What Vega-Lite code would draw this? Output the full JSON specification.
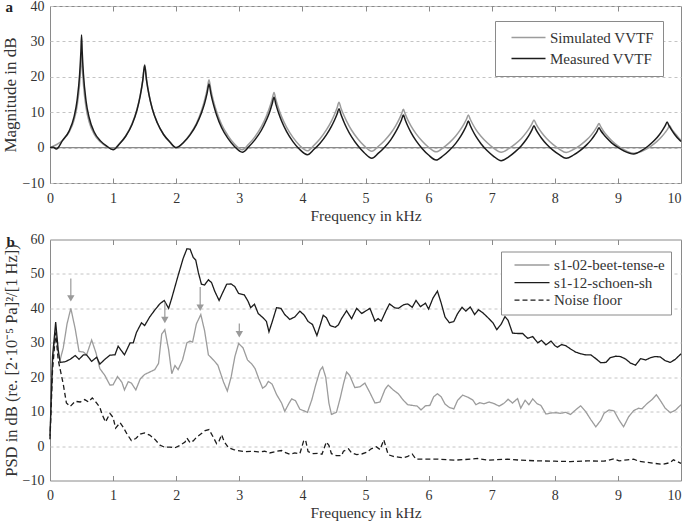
{
  "$schema": "https://vega.github.io/schema/vega-lite/v6.json",
  "padding": {"left": 0, "top": -2, "right": 0, "bottom": 0},
  "spacing": 7.5,
  "config": {
    "background": "white",
    "font": "Times New Roman, Liberation Serif, serif",
    "view": {"stroke": "#8a8a8a", "strokeWidth": 1},
    "axis": {"domain": false, "labelFont": "Times New Roman, Liberation Serif, serif", "labelFontSize": 14, "labelColor": "#333", "titleFont": "Times New Roman, Liberation Serif, serif", "titleFontSize": 15.5, "titleFontWeight": "normal", "titleColor": "#333", "gridColor": "#c4c4c4", "gridDash": [3, 3], "tickColor": "#8a8a8a", "labelFlush": false},
    "legend": {"labelFont": "Times New Roman, Liberation Serif, serif"}
  },
  "datasets": {
    "zero": [{"f0": 0, "f1": 10, "v": 0}],
    "arrows": [
      {"f": 0.33, "top": 48.7, "head": 42.9},
      {"f": 1.82, "top": 41.7, "head": 36.6},
      {"f": 2.38, "top": 46.2, "head": 40.2},
      {"f": 3.0, "top": 35.6, "head": 32.5}
    ],
    "A": [
      {"f":0,"v":0,"s":"Simulated VVTF"},{"f":0.1,"v":0.8,"s":"Simulated VVTF"},{"f":0.2,"v":2.1,"s":"Simulated VVTF"},{"f":0.3,"v":4.3,"s":"Simulated VVTF"},{"f":0.38,"v":7.7,"s":"Simulated VVTF"},{"f":0.43,"v":11.8,"s":"Simulated VVTF"},{"f":0.47,"v":18.1,"s":"Simulated VVTF"},{"f":0.49,"v":23.6,"s":"Simulated VVTF"},{"f":0.5,"v":27.5,"s":"Simulated VVTF"},{"f":0.51,"v":23.5,"s":"Simulated VVTF"},{"f":0.53,"v":17.9,"s":"Simulated VVTF"},{"f":0.57,"v":11.5,"s":"Simulated VVTF"},{"f":0.62,"v":7.3,"s":"Simulated VVTF"},{"f":0.7,"v":3.8,"s":"Simulated VVTF"},{"f":0.8,"v":1.6,"s":"Simulated VVTF"},{"f":0.9,"v":0.3,"s":"Simulated VVTF"},{"f":1.0,"v":-0.5,"s":"Simulated VVTF"},
      {"f":1.1,"v":1.1,"s":"Simulated VVTF"},{"f":1.2,"v":3.3,"s":"Simulated VVTF"},{"f":1.3,"v":6.7,"s":"Simulated VVTF"},{"f":1.38,"v":10.9,"s":"Simulated VVTF"},{"f":1.43,"v":14.8,"s":"Simulated VVTF"},{"f":1.47,"v":19.1,"s":"Simulated VVTF"},{"f":1.5,"v":23.5,"s":"Simulated VVTF"},{"f":1.53,"v":19.2,"s":"Simulated VVTF"},{"f":1.57,"v":14.9,"s":"Simulated VVTF"},{"f":1.62,"v":11.1,"s":"Simulated VVTF"},{"f":1.7,"v":7.0,"s":"Simulated VVTF"},{"f":1.8,"v":3.7,"s":"Simulated VVTF"},{"f":1.9,"v":1.5,"s":"Simulated VVTF"},{"f":2.0,"v":-0.1,"s":"Simulated VVTF"},
      {"f":2.12,"v":1.6,"s":"Simulated VVTF"},{"f":2.22,"v":3.8,"s":"Simulated VVTF"},{"f":2.32,"v":6.8,"s":"Simulated VVTF"},{"f":2.4,"v":10.4,"s":"Simulated VVTF"},{"f":2.45,"v":13.4,"s":"Simulated VVTF"},{"f":2.49,"v":16.4,"s":"Simulated VVTF"},{"f":2.52,"v":19.2,"s":"Simulated VVTF"},{"f":2.55,"v":16.3,"s":"Simulated VVTF"},{"f":2.59,"v":13.2,"s":"Simulated VVTF"},{"f":2.64,"v":10.2,"s":"Simulated VVTF"},{"f":2.72,"v":6.5,"s":"Simulated VVTF"},{"f":2.82,"v":3.4,"s":"Simulated VVTF"},{"f":2.92,"v":1.1,"s":"Simulated VVTF"},{"f":3.05,"v":-0.6,"s":"Simulated VVTF"},
      {"f":3.15,"v":1.0,"s":"Simulated VVTF"},{"f":3.25,"v":3.1,"s":"Simulated VVTF"},{"f":3.35,"v":5.9,"s":"Simulated VVTF"},{"f":3.43,"v":8.9,"s":"Simulated VVTF"},{"f":3.48,"v":11.3,"s":"Simulated VVTF"},{"f":3.52,"v":13.6,"s":"Simulated VVTF"},{"f":3.55,"v":15.6,"s":"Simulated VVTF"},{"f":3.58,"v":13.5,"s":"Simulated VVTF"},{"f":3.62,"v":11.2,"s":"Simulated VVTF"},{"f":3.67,"v":8.75,"s":"Simulated VVTF"},{"f":3.75,"v":5.7,"s":"Simulated VVTF"},{"f":3.85,"v":2.9,"s":"Simulated VVTF"},{"f":3.95,"v":0.75,"s":"Simulated VVTF"},{"f":4.08,"v":-0.9,"s":"Simulated VVTF"},
      {"f":4.18,"v":0.6,"s":"Simulated VVTF"},{"f":4.28,"v":2.5,"s":"Simulated VVTF"},{"f":4.38,"v":5.0,"s":"Simulated VVTF"},{"f":4.46,"v":7.5,"s":"Simulated VVTF"},{"f":4.51,"v":9.4,"s":"Simulated VVTF"},{"f":4.55,"v":11.25,"s":"Simulated VVTF"},{"f":4.58,"v":12.8,"s":"Simulated VVTF"},{"f":4.61,"v":11.2,"s":"Simulated VVTF"},{"f":4.65,"v":9.4,"s":"Simulated VVTF"},{"f":4.7,"v":7.5,"s":"Simulated VVTF"},{"f":4.78,"v":4.9,"s":"Simulated VVTF"},{"f":4.88,"v":2.45,"s":"Simulated VVTF"},{"f":4.98,"v":0.5,"s":"Simulated VVTF"},{"f":5.1,"v":-1.0,"s":"Simulated VVTF"},
      {"f":5.2,"v":0.3,"s":"Simulated VVTF"},{"f":5.3,"v":1.95,"s":"Simulated VVTF"},{"f":5.4,"v":4.05,"s":"Simulated VVTF"},{"f":5.48,"v":6.2,"s":"Simulated VVTF"},{"f":5.53,"v":7.9,"s":"Simulated VVTF"},{"f":5.57,"v":9.45,"s":"Simulated VVTF"},{"f":5.6,"v":10.8,"s":"Simulated VVTF"},{"f":5.63,"v":9.45,"s":"Simulated VVTF"},{"f":5.67,"v":7.85,"s":"Simulated VVTF"},{"f":5.72,"v":6.15,"s":"Simulated VVTF"},{"f":5.8,"v":3.95,"s":"Simulated VVTF"},{"f":5.9,"v":1.8,"s":"Simulated VVTF"},{"f":6.0,"v":0.1,"s":"Simulated VVTF"},{"f":6.12,"v":-1.2,"s":"Simulated VVTF"},
      {"f":6.23,"v":-0.05,"s":"Simulated VVTF"},{"f":6.33,"v":1.4,"s":"Simulated VVTF"},{"f":6.43,"v":3.25,"s":"Simulated VVTF"},{"f":6.51,"v":5.2,"s":"Simulated VVTF"},{"f":6.56,"v":6.65,"s":"Simulated VVTF"},{"f":6.6,"v":8.0,"s":"Simulated VVTF"},{"f":6.63,"v":9.2,"s":"Simulated VVTF"},{"f":6.66,"v":8.0,"s":"Simulated VVTF"},{"f":6.7,"v":6.6,"s":"Simulated VVTF"},{"f":6.75,"v":5.1,"s":"Simulated VVTF"},{"f":6.83,"v":3.2,"s":"Simulated VVTF"},{"f":6.93,"v":1.35,"s":"Simulated VVTF"},{"f":7.03,"v":-0.15,"s":"Simulated VVTF"},{"f":7.15,"v":-1.3,"s":"Simulated VVTF"},
      {"f":7.27,"v":-0.3,"s":"Simulated VVTF"},{"f":7.37,"v":1.0,"s":"Simulated VVTF"},{"f":7.47,"v":2.6,"s":"Simulated VVTF"},{"f":7.55,"v":4.3,"s":"Simulated VVTF"},{"f":7.6,"v":5.6,"s":"Simulated VVTF"},{"f":7.64,"v":6.8,"s":"Simulated VVTF"},{"f":7.67,"v":7.8,"s":"Simulated VVTF"},{"f":7.7,"v":6.8,"s":"Simulated VVTF"},{"f":7.74,"v":5.55,"s":"Simulated VVTF"},{"f":7.79,"v":4.25,"s":"Simulated VVTF"},{"f":7.87,"v":2.55,"s":"Simulated VVTF"},{"f":7.97,"v":0.9,"s":"Simulated VVTF"},{"f":8.07,"v":-0.4,"s":"Simulated VVTF"},{"f":8.18,"v":-1.4,"s":"Simulated VVTF"},
      {"f":8.3,"v":-0.5,"s":"Simulated VVTF"},{"f":8.4,"v":0.65,"s":"Simulated VVTF"},{"f":8.5,"v":2.1,"s":"Simulated VVTF"},{"f":8.58,"v":3.6,"s":"Simulated VVTF"},{"f":8.63,"v":4.8,"s":"Simulated VVTF"},{"f":8.67,"v":5.9,"s":"Simulated VVTF"},{"f":8.7,"v":6.8,"s":"Simulated VVTF"},{"f":8.73,"v":5.85,"s":"Simulated VVTF"},{"f":8.77,"v":4.7,"s":"Simulated VVTF"},{"f":8.82,"v":3.55,"s":"Simulated VVTF"},{"f":8.9,"v":2.0,"s":"Simulated VVTF"},{"f":9.0,"v":0.5,"s":"Simulated VVTF"},{"f":9.1,"v":-0.65,"s":"Simulated VVTF"},{"f":9.25,"v":-1.6,"s":"Simulated VVTF"},
      {"f":9.42,"v":-0.73,"s":"Simulated VVTF"},{"f":9.52,"v":0.35,"s":"Simulated VVTF"},{"f":9.62,"v":1.75,"s":"Simulated VVTF"},{"f":9.7,"v":3.2,"s":"Simulated VVTF"},{"f":9.75,"v":4.3,"s":"Simulated VVTF"},{"f":9.79,"v":5.3,"s":"Simulated VVTF"},{"f":9.82,"v":6.2,"s":"Simulated VVTF"},{"f":9.85,"v":5.3,"s":"Simulated VVTF"},{"f":9.89,"v":4.35,"s":"Simulated VVTF"},{"f":9.94,"v":3.3,"s":"Simulated VVTF"},{"f":10.0,"v":2.0,"s":"Simulated VVTF"},
      {"f":0,"v":0,"s":"Measured VVTF"},{"f":0.05,"v":0.1,"s":"Measured VVTF"},{"f":0.1,"v":-0.4,"s":"Measured VVTF"},{"f":0.2,"v":2.05,"s":"Measured VVTF"},{"f":0.3,"v":4.6,"s":"Measured VVTF"},{"f":0.38,"v":8.6,"s":"Measured VVTF"},{"f":0.43,"v":13.4,"s":"Measured VVTF"},{"f":0.47,"v":20.8,"s":"Measured VVTF"},{"f":0.49,"v":27.2,"s":"Measured VVTF"},{"f":0.5,"v":31.8,"s":"Measured VVTF"},{"f":0.51,"v":27.2,"s":"Measured VVTF"},{"f":0.53,"v":20.7,"s":"Measured VVTF"},{"f":0.57,"v":13.3,"s":"Measured VVTF"},{"f":0.62,"v":8.5,"s":"Measured VVTF"},{"f":0.7,"v":4.4,"s":"Measured VVTF"},{"f":0.8,"v":1.9,"s":"Measured VVTF"},{"f":0.9,"v":0.4,"s":"Measured VVTF"},{"f":1.0,"v":-0.6,"s":"Measured VVTF"},
      {"f":1.1,"v":1.0,"s":"Measured VVTF"},{"f":1.2,"v":3.2,"s":"Measured VVTF"},{"f":1.3,"v":6.5,"s":"Measured VVTF"},{"f":1.38,"v":10.7,"s":"Measured VVTF"},{"f":1.43,"v":14.6,"s":"Measured VVTF"},{"f":1.47,"v":18.9,"s":"Measured VVTF"},{"f":1.5,"v":23.2,"s":"Measured VVTF"},{"f":1.53,"v":19.0,"s":"Measured VVTF"},{"f":1.57,"v":14.8,"s":"Measured VVTF"},{"f":1.62,"v":11.0,"s":"Measured VVTF"},{"f":1.7,"v":7.0,"s":"Measured VVTF"},{"f":1.8,"v":3.7,"s":"Measured VVTF"},{"f":1.9,"v":1.6,"s":"Measured VVTF"},{"f":2.0,"v":0,"s":"Measured VVTF"},
      {"f":2.12,"v":1.5,"s":"Measured VVTF"},{"f":2.22,"v":3.6,"s":"Measured VVTF"},{"f":2.32,"v":6.5,"s":"Measured VVTF"},{"f":2.4,"v":9.8,"s":"Measured VVTF"},{"f":2.45,"v":12.5,"s":"Measured VVTF"},{"f":2.49,"v":15.4,"s":"Measured VVTF"},{"f":2.52,"v":18,"s":"Measured VVTF"},{"f":2.55,"v":15.2,"s":"Measured VVTF"},{"f":2.59,"v":12.2,"s":"Measured VVTF"},{"f":2.64,"v":9.2,"s":"Measured VVTF"},{"f":2.72,"v":5.6,"s":"Measured VVTF"},{"f":2.82,"v":2.6,"s":"Measured VVTF"},{"f":2.92,"v":0.4,"s":"Measured VVTF"},{"f":3.05,"v":-1.3,"s":"Measured VVTF"},
      {"f":3.15,"v":0.25,"s":"Measured VVTF"},{"f":3.25,"v":2.25,"s":"Measured VVTF"},{"f":3.35,"v":4.9,"s":"Measured VVTF"},{"f":3.43,"v":7.8,"s":"Measured VVTF"},{"f":3.48,"v":10.0,"s":"Measured VVTF"},{"f":3.52,"v":12.3,"s":"Measured VVTF"},{"f":3.55,"v":14.2,"s":"Measured VVTF"},{"f":3.58,"v":12.2,"s":"Measured VVTF"},{"f":3.62,"v":9.9,"s":"Measured VVTF"},{"f":3.67,"v":7.5,"s":"Measured VVTF"},{"f":3.75,"v":4.5,"s":"Measured VVTF"},{"f":3.85,"v":1.7,"s":"Measured VVTF"},{"f":3.95,"v":-0.4,"s":"Measured VVTF"},{"f":4.08,"v":-2.0,"s":"Measured VVTF"},
      {"f":4.18,"v":-0.55,"s":"Measured VVTF"},{"f":4.28,"v":1.25,"s":"Measured VVTF"},{"f":4.38,"v":3.6,"s":"Measured VVTF"},{"f":4.46,"v":6.0,"s":"Measured VVTF"},{"f":4.51,"v":7.8,"s":"Measured VVTF"},{"f":4.55,"v":9.5,"s":"Measured VVTF"},{"f":4.58,"v":11,"s":"Measured VVTF"},{"f":4.61,"v":9.4,"s":"Measured VVTF"},{"f":4.65,"v":7.6,"s":"Measured VVTF"},{"f":4.7,"v":5.6,"s":"Measured VVTF"},{"f":4.78,"v":3.0,"s":"Measured VVTF"},{"f":4.88,"v":0.5,"s":"Measured VVTF"},{"f":4.98,"v":-1.45,"s":"Measured VVTF"},{"f":5.1,"v":-3.0,"s":"Measured VVTF"},
      {"f":5.2,"v":-1.65,"s":"Measured VVTF"},{"f":5.3,"v":0.05,"s":"Measured VVTF"},{"f":5.4,"v":2.2,"s":"Measured VVTF"},{"f":5.48,"v":4.5,"s":"Measured VVTF"},{"f":5.53,"v":6.2,"s":"Measured VVTF"},{"f":5.57,"v":7.8,"s":"Measured VVTF"},{"f":5.6,"v":9.2,"s":"Measured VVTF"},{"f":5.63,"v":7.8,"s":"Measured VVTF"},{"f":5.67,"v":6.1,"s":"Measured VVTF"},{"f":5.72,"v":4.3,"s":"Measured VVTF"},{"f":5.8,"v":1.95,"s":"Measured VVTF"},{"f":5.9,"v":-0.3,"s":"Measured VVTF"},{"f":6.0,"v":-2.1,"s":"Measured VVTF"},{"f":6.12,"v":-3.5,"s":"Measured VVTF"},
      {"f":6.23,"v":-2.3,"s":"Measured VVTF"},{"f":6.33,"v":-0.75,"s":"Measured VVTF"},{"f":6.43,"v":1.2,"s":"Measured VVTF"},{"f":6.51,"v":3.25,"s":"Measured VVTF"},{"f":6.56,"v":4.8,"s":"Measured VVTF"},{"f":6.6,"v":6.25,"s":"Measured VVTF"},{"f":6.63,"v":7.5,"s":"Measured VVTF"},{"f":6.66,"v":6.25,"s":"Measured VVTF"},{"f":6.7,"v":4.75,"s":"Measured VVTF"},{"f":6.75,"v":3.15,"s":"Measured VVTF"},{"f":6.83,"v":1.1,"s":"Measured VVTF"},{"f":6.93,"v":-0.9,"s":"Measured VVTF"},{"f":7.03,"v":-2.45,"s":"Measured VVTF"},{"f":7.15,"v":-3.7,"s":"Measured VVTF"},
      {"f":7.27,"v":-2.6,"s":"Measured VVTF"},{"f":7.37,"v":-1.2,"s":"Measured VVTF"},{"f":7.47,"v":0.55,"s":"Measured VVTF"},{"f":7.55,"v":2.35,"s":"Measured VVTF"},{"f":7.6,"v":3.75,"s":"Measured VVTF"},{"f":7.64,"v":5.1,"s":"Measured VVTF"},{"f":7.67,"v":6.2,"s":"Measured VVTF"},{"f":7.7,"v":5.15,"s":"Measured VVTF"},{"f":7.74,"v":3.95,"s":"Measured VVTF"},{"f":7.79,"v":2.65,"s":"Measured VVTF"},{"f":7.87,"v":0.95,"s":"Measured VVTF"},{"f":7.97,"v":-0.7,"s":"Measured VVTF"},{"f":8.07,"v":-1.98,"s":"Measured VVTF"},{"f":8.18,"v":-3.0,"s":"Measured VVTF"},
      {"f":8.3,"v":-2.05,"s":"Measured VVTF"},{"f":8.4,"v":-0.85,"s":"Measured VVTF"},{"f":8.5,"v":0.7,"s":"Measured VVTF"},{"f":8.58,"v":2.25,"s":"Measured VVTF"},{"f":8.63,"v":3.5,"s":"Measured VVTF"},{"f":8.67,"v":4.6,"s":"Measured VVTF"},{"f":8.7,"v":5.6,"s":"Measured VVTF"},{"f":8.73,"v":4.75,"s":"Measured VVTF"},{"f":8.77,"v":3.8,"s":"Measured VVTF"},{"f":8.82,"v":2.75,"s":"Measured VVTF"},{"f":8.9,"v":1.35,"s":"Measured VVTF"},{"f":9.0,"v":0.05,"s":"Measured VVTF"},{"f":9.1,"v":-0.98,"s":"Measured VVTF"},{"f":9.25,"v":-1.8,"s":"Measured VVTF"},
      {"f":9.38,"v":-0.8,"s":"Measured VVTF"},{"f":9.48,"v":0.45,"s":"Measured VVTF"},{"f":9.58,"v":2.05,"s":"Measured VVTF"},{"f":9.66,"v":3.7,"s":"Measured VVTF"},{"f":9.71,"v":5.0,"s":"Measured VVTF"},{"f":9.75,"v":6.2,"s":"Measured VVTF"},{"f":9.78,"v":7.2,"s":"Measured VVTF"},{"f":9.81,"v":6.2,"s":"Measured VVTF"},{"f":9.85,"v":5.0,"s":"Measured VVTF"},{"f":9.9,"v":3.7,"s":"Measured VVTF"},{"f":9.98,"v":2.05,"s":"Measured VVTF"},{"f":10.0,"v":1.7,"s":"Measured VVTF"}
    ],
    "B": [
      {"f":0,"v":2,"s":"s1-02-beet-tense-e"},{"f":0.04,"v":24,"s":"s1-02-beet-tense-e"},{"f":0.09,"v":34,"s":"s1-02-beet-tense-e"},{"f":0.13,"v":27,"s":"s1-02-beet-tense-e"},{"f":0.16,"v":25,"s":"s1-02-beet-tense-e"},{"f":0.21,"v":28.5,"s":"s1-02-beet-tense-e"},{"f":0.27,"v":35.5,"s":"s1-02-beet-tense-e"},{"f":0.33,"v":40,"s":"s1-02-beet-tense-e"},{"f":0.4,"v":34,"s":"s1-02-beet-tense-e"},{"f":0.46,"v":27.5,"s":"s1-02-beet-tense-e"},{"f":0.53,"v":27.3,"s":"s1-02-beet-tense-e"},{"f":0.58,"v":26.5,"s":"s1-02-beet-tense-e"},{"f":0.66,"v":30.8,"s":"s1-02-beet-tense-e"},{"f":0.73,"v":27,"s":"s1-02-beet-tense-e"},{"f":0.79,"v":22.5,"s":"s1-02-beet-tense-e"},{"f":0.87,"v":20.5,"s":"s1-02-beet-tense-e"},{"f":0.95,"v":17.7,"s":"s1-02-beet-tense-e"},{"f":1.0,"v":17.8,"s":"s1-02-beet-tense-e"},{"f":1.07,"v":20.2,"s":"s1-02-beet-tense-e"},{"f":1.14,"v":18.5,"s":"s1-02-beet-tense-e"},{"f":1.18,"v":16.3,"s":"s1-02-beet-tense-e"},{"f":1.24,"v":18.7,"s":"s1-02-beet-tense-e"},{"f":1.29,"v":18.3,"s":"s1-02-beet-tense-e"},{"f":1.36,"v":16.3,"s":"s1-02-beet-tense-e"},{"f":1.43,"v":19.5,"s":"s1-02-beet-tense-e"},{"f":1.5,"v":20.8,"s":"s1-02-beet-tense-e"},{"f":1.58,"v":21.5,"s":"s1-02-beet-tense-e"},{"f":1.66,"v":22.2,"s":"s1-02-beet-tense-e"},{"f":1.72,"v":24,"s":"s1-02-beet-tense-e"},{"f":1.77,"v":32.5,"s":"s1-02-beet-tense-e"},{"f":1.82,"v":33.8,"s":"s1-02-beet-tense-e"},{"f":1.88,"v":28,"s":"s1-02-beet-tense-e"},{"f":1.93,"v":21,"s":"s1-02-beet-tense-e"},{"f":1.98,"v":23.4,"s":"s1-02-beet-tense-e"},{"f":2.03,"v":22.2,"s":"s1-02-beet-tense-e"},{"f":2.1,"v":25,"s":"s1-02-beet-tense-e"},{"f":2.17,"v":30,"s":"s1-02-beet-tense-e"},{"f":2.22,"v":30.5,"s":"s1-02-beet-tense-e"},{"f":2.26,"v":30.2,"s":"s1-02-beet-tense-e"},{"f":2.32,"v":35.5,"s":"s1-02-beet-tense-e"},{"f":2.39,"v":38.2,"s":"s1-02-beet-tense-e"},{"f":2.45,"v":33.5,"s":"s1-02-beet-tense-e"},{"f":2.51,"v":26.5,"s":"s1-02-beet-tense-e"},{"f":2.59,"v":25,"s":"s1-02-beet-tense-e"},{"f":2.66,"v":23.5,"s":"s1-02-beet-tense-e"},{"f":2.75,"v":18.6,"s":"s1-02-beet-tense-e"},{"f":2.81,"v":16,"s":"s1-02-beet-tense-e"},{"f":2.87,"v":20,"s":"s1-02-beet-tense-e"},{"f":2.93,"v":26,"s":"s1-02-beet-tense-e"},{"f":2.99,"v":29.8,"s":"s1-02-beet-tense-e"},{"f":3.06,"v":28.5,"s":"s1-02-beet-tense-e"},{"f":3.13,"v":25,"s":"s1-02-beet-tense-e"},{"f":3.2,"v":23.8,"s":"s1-02-beet-tense-e"},{"f":3.25,"v":22.5,"s":"s1-02-beet-tense-e"},{"f":3.31,"v":19.5,"s":"s1-02-beet-tense-e"},{"f":3.37,"v":16.8,"s":"s1-02-beet-tense-e"},{"f":3.42,"v":17.5,"s":"s1-02-beet-tense-e"},{"f":3.46,"v":18.8,"s":"s1-02-beet-tense-e"},{"f":3.52,"v":18,"s":"s1-02-beet-tense-e"},{"f":3.59,"v":15,"s":"s1-02-beet-tense-e"},{"f":3.67,"v":12.5,"s":"s1-02-beet-tense-e"},{"f":3.72,"v":10.1,"s":"s1-02-beet-tense-e"},{"f":3.79,"v":12.5,"s":"s1-02-beet-tense-e"},{"f":3.83,"v":13.7,"s":"s1-02-beet-tense-e"},{"f":3.89,"v":13.2,"s":"s1-02-beet-tense-e"},{"f":3.96,"v":10.7,"s":"s1-02-beet-tense-e"},{"f":4.03,"v":10.2,"s":"s1-02-beet-tense-e"},{"f":4.08,"v":9.8,"s":"s1-02-beet-tense-e"},{"f":4.15,"v":13.5,"s":"s1-02-beet-tense-e"},{"f":4.21,"v":17.7,"s":"s1-02-beet-tense-e"},{"f":4.28,"v":22,"s":"s1-02-beet-tense-e"},{"f":4.32,"v":23,"s":"s1-02-beet-tense-e"},{"f":4.37,"v":20,"s":"s1-02-beet-tense-e"},{"f":4.42,"v":12.5,"s":"s1-02-beet-tense-e"},{"f":4.46,"v":9.2,"s":"s1-02-beet-tense-e"},{"f":4.54,"v":9.8,"s":"s1-02-beet-tense-e"},{"f":4.6,"v":14,"s":"s1-02-beet-tense-e"},{"f":4.65,"v":18,"s":"s1-02-beet-tense-e"},{"f":4.7,"v":21.5,"s":"s1-02-beet-tense-e"},{"f":4.75,"v":20.5,"s":"s1-02-beet-tense-e"},{"f":4.83,"v":17,"s":"s1-02-beet-tense-e"},{"f":4.91,"v":17.2,"s":"s1-02-beet-tense-e"},{"f":4.99,"v":18.3,"s":"s1-02-beet-tense-e"},{"f":5.07,"v":15.5,"s":"s1-02-beet-tense-e"},{"f":5.15,"v":12.5,"s":"s1-02-beet-tense-e"},{"f":5.23,"v":12.8,"s":"s1-02-beet-tense-e"},{"f":5.31,"v":16.5,"s":"s1-02-beet-tense-e"},{"f":5.36,"v":17.7,"s":"s1-02-beet-tense-e"},{"f":5.44,"v":16.3,"s":"s1-02-beet-tense-e"},{"f":5.52,"v":15.2,"s":"s1-02-beet-tense-e"},{"f":5.6,"v":13.3,"s":"s1-02-beet-tense-e"},{"f":5.67,"v":12,"s":"s1-02-beet-tense-e"},{"f":5.75,"v":11.8,"s":"s1-02-beet-tense-e"},{"f":5.82,"v":11.6,"s":"s1-02-beet-tense-e"},{"f":5.88,"v":10.5,"s":"s1-02-beet-tense-e"},{"f":5.95,"v":11.7,"s":"s1-02-beet-tense-e"},{"f":6.02,"v":11.8,"s":"s1-02-beet-tense-e"},{"f":6.08,"v":14.3,"s":"s1-02-beet-tense-e"},{"f":6.14,"v":15.2,"s":"s1-02-beet-tense-e"},{"f":6.2,"v":14.3,"s":"s1-02-beet-tense-e"},{"f":6.26,"v":12.2,"s":"s1-02-beet-tense-e"},{"f":6.33,"v":11.2,"s":"s1-02-beet-tense-e"},{"f":6.4,"v":10.8,"s":"s1-02-beet-tense-e"},{"f":6.46,"v":13.3,"s":"s1-02-beet-tense-e"},{"f":6.54,"v":14.8,"s":"s1-02-beet-tense-e"},{"f":6.62,"v":14.2,"s":"s1-02-beet-tense-e"},{"f":6.7,"v":13.4,"s":"s1-02-beet-tense-e"},{"f":6.75,"v":12,"s":"s1-02-beet-tense-e"},{"f":6.81,"v":12.6,"s":"s1-02-beet-tense-e"},{"f":6.88,"v":12.3,"s":"s1-02-beet-tense-e"},{"f":6.96,"v":12.8,"s":"s1-02-beet-tense-e"},{"f":7.04,"v":12.3,"s":"s1-02-beet-tense-e"},{"f":7.12,"v":11.6,"s":"s1-02-beet-tense-e"},{"f":7.2,"v":12.5,"s":"s1-02-beet-tense-e"},{"f":7.26,"v":13.6,"s":"s1-02-beet-tense-e"},{"f":7.33,"v":12.5,"s":"s1-02-beet-tense-e"},{"f":7.41,"v":13.8,"s":"s1-02-beet-tense-e"},{"f":7.46,"v":11,"s":"s1-02-beet-tense-e"},{"f":7.53,"v":13.3,"s":"s1-02-beet-tense-e"},{"f":7.59,"v":12,"s":"s1-02-beet-tense-e"},{"f":7.65,"v":13.7,"s":"s1-02-beet-tense-e"},{"f":7.72,"v":12.3,"s":"s1-02-beet-tense-e"},{"f":7.78,"v":11.8,"s":"s1-02-beet-tense-e"},{"f":7.86,"v":9.3,"s":"s1-02-beet-tense-e"},{"f":7.94,"v":9.6,"s":"s1-02-beet-tense-e"},{"f":8.02,"v":9.7,"s":"s1-02-beet-tense-e"},{"f":8.09,"v":9.5,"s":"s1-02-beet-tense-e"},{"f":8.17,"v":9.8,"s":"s1-02-beet-tense-e"},{"f":8.25,"v":9.2,"s":"s1-02-beet-tense-e"},{"f":8.33,"v":10.5,"s":"s1-02-beet-tense-e"},{"f":8.41,"v":11.7,"s":"s1-02-beet-tense-e"},{"f":8.49,"v":10,"s":"s1-02-beet-tense-e"},{"f":8.57,"v":7.7,"s":"s1-02-beet-tense-e"},{"f":8.65,"v":5.6,"s":"s1-02-beet-tense-e"},{"f":8.73,"v":7.5,"s":"s1-02-beet-tense-e"},{"f":8.78,"v":9.5,"s":"s1-02-beet-tense-e"},{"f":8.86,"v":10.5,"s":"s1-02-beet-tense-e"},{"f":8.94,"v":10.2,"s":"s1-02-beet-tense-e"},{"f":9.02,"v":7.5,"s":"s1-02-beet-tense-e"},{"f":9.09,"v":5.6,"s":"s1-02-beet-tense-e"},{"f":9.17,"v":8.5,"s":"s1-02-beet-tense-e"},{"f":9.25,"v":10.3,"s":"s1-02-beet-tense-e"},{"f":9.33,"v":11,"s":"s1-02-beet-tense-e"},{"f":9.38,"v":10.8,"s":"s1-02-beet-tense-e"},{"f":9.46,"v":12.3,"s":"s1-02-beet-tense-e"},{"f":9.54,"v":13.5,"s":"s1-02-beet-tense-e"},{"f":9.61,"v":14.9,"s":"s1-02-beet-tense-e"},{"f":9.67,"v":13.3,"s":"s1-02-beet-tense-e"},{"f":9.75,"v":11,"s":"s1-02-beet-tense-e"},{"f":9.83,"v":9.7,"s":"s1-02-beet-tense-e"},{"f":9.91,"v":10.4,"s":"s1-02-beet-tense-e"},{"f":10.0,"v":12,"s":"s1-02-beet-tense-e"},
      {"f":0,"v":3,"s":"s1-12-schoen-sh"},{"f":0.04,"v":26,"s":"s1-12-schoen-sh"},{"f":0.09,"v":36,"s":"s1-12-schoen-sh"},{"f":0.13,"v":28,"s":"s1-12-schoen-sh"},{"f":0.16,"v":24.3,"s":"s1-12-schoen-sh"},{"f":0.24,"v":24.5,"s":"s1-12-schoen-sh"},{"f":0.32,"v":25.2,"s":"s1-12-schoen-sh"},{"f":0.4,"v":26.3,"s":"s1-12-schoen-sh"},{"f":0.46,"v":25.2,"s":"s1-12-schoen-sh"},{"f":0.53,"v":26.5,"s":"s1-12-schoen-sh"},{"f":0.58,"v":26.5,"s":"s1-12-schoen-sh"},{"f":0.66,"v":24.6,"s":"s1-12-schoen-sh"},{"f":0.74,"v":25.8,"s":"s1-12-schoen-sh"},{"f":0.79,"v":23.8,"s":"s1-12-schoen-sh"},{"f":0.87,"v":25.2,"s":"s1-12-schoen-sh"},{"f":0.95,"v":26.4,"s":"s1-12-schoen-sh"},{"f":1.03,"v":26.5,"s":"s1-12-schoen-sh"},{"f":1.08,"v":29,"s":"s1-12-schoen-sh"},{"f":1.18,"v":26.5,"s":"s1-12-schoen-sh"},{"f":1.27,"v":30,"s":"s1-12-schoen-sh"},{"f":1.32,"v":30,"s":"s1-12-schoen-sh"},{"f":1.37,"v":33,"s":"s1-12-schoen-sh"},{"f":1.45,"v":35.8,"s":"s1-12-schoen-sh"},{"f":1.5,"v":35,"s":"s1-12-schoen-sh"},{"f":1.58,"v":37.5,"s":"s1-12-schoen-sh"},{"f":1.66,"v":39.5,"s":"s1-12-schoen-sh"},{"f":1.74,"v":41.3,"s":"s1-12-schoen-sh"},{"f":1.81,"v":42.3,"s":"s1-12-schoen-sh"},{"f":1.88,"v":40,"s":"s1-12-schoen-sh"},{"f":1.93,"v":43,"s":"s1-12-schoen-sh"},{"f":2.03,"v":49.5,"s":"s1-12-schoen-sh"},{"f":2.11,"v":54.5,"s":"s1-12-schoen-sh"},{"f":2.17,"v":57.3,"s":"s1-12-schoen-sh"},{"f":2.22,"v":57.2,"s":"s1-12-schoen-sh"},{"f":2.27,"v":54.8,"s":"s1-12-schoen-sh"},{"f":2.31,"v":54,"s":"s1-12-schoen-sh"},{"f":2.35,"v":50.5,"s":"s1-12-schoen-sh"},{"f":2.4,"v":47,"s":"s1-12-schoen-sh"},{"f":2.45,"v":46.8,"s":"s1-12-schoen-sh"},{"f":2.51,"v":48.3,"s":"s1-12-schoen-sh"},{"f":2.56,"v":47.5,"s":"s1-12-schoen-sh"},{"f":2.61,"v":45,"s":"s1-12-schoen-sh"},{"f":2.68,"v":42.3,"s":"s1-12-schoen-sh"},{"f":2.73,"v":44.3,"s":"s1-12-schoen-sh"},{"f":2.8,"v":47,"s":"s1-12-schoen-sh"},{"f":2.87,"v":47.1,"s":"s1-12-schoen-sh"},{"f":2.93,"v":46.3,"s":"s1-12-schoen-sh"},{"f":2.99,"v":44.3,"s":"s1-12-schoen-sh"},{"f":3.08,"v":43.9,"s":"s1-12-schoen-sh"},{"f":3.14,"v":42,"s":"s1-12-schoen-sh"},{"f":3.18,"v":40.2,"s":"s1-12-schoen-sh"},{"f":3.24,"v":41.2,"s":"s1-12-schoen-sh"},{"f":3.3,"v":38.5,"s":"s1-12-schoen-sh"},{"f":3.38,"v":37.2,"s":"s1-12-schoen-sh"},{"f":3.43,"v":36.2,"s":"s1-12-schoen-sh"},{"f":3.47,"v":33.2,"s":"s1-12-schoen-sh"},{"f":3.52,"v":36,"s":"s1-12-schoen-sh"},{"f":3.59,"v":40.2,"s":"s1-12-schoen-sh"},{"f":3.66,"v":40,"s":"s1-12-schoen-sh"},{"f":3.72,"v":38.2,"s":"s1-12-schoen-sh"},{"f":3.8,"v":36.8,"s":"s1-12-schoen-sh"},{"f":3.88,"v":37.5,"s":"s1-12-schoen-sh"},{"f":3.96,"v":39.2,"s":"s1-12-schoen-sh"},{"f":4.03,"v":38,"s":"s1-12-schoen-sh"},{"f":4.09,"v":36.2,"s":"s1-12-schoen-sh"},{"f":4.16,"v":35.3,"s":"s1-12-schoen-sh"},{"f":4.23,"v":32.1,"s":"s1-12-schoen-sh"},{"f":4.28,"v":35,"s":"s1-12-schoen-sh"},{"f":4.33,"v":38,"s":"s1-12-schoen-sh"},{"f":4.38,"v":37.3,"s":"s1-12-schoen-sh"},{"f":4.44,"v":35,"s":"s1-12-schoen-sh"},{"f":4.52,"v":34.5,"s":"s1-12-schoen-sh"},{"f":4.57,"v":35.2,"s":"s1-12-schoen-sh"},{"f":4.62,"v":37,"s":"s1-12-schoen-sh"},{"f":4.7,"v":39.3,"s":"s1-12-schoen-sh"},{"f":4.78,"v":37,"s":"s1-12-schoen-sh"},{"f":4.86,"v":40,"s":"s1-12-schoen-sh"},{"f":4.94,"v":38.5,"s":"s1-12-schoen-sh"},{"f":5.0,"v":39.2,"s":"s1-12-schoen-sh"},{"f":5.07,"v":40,"s":"s1-12-schoen-sh"},{"f":5.15,"v":36.3,"s":"s1-12-schoen-sh"},{"f":5.2,"v":37,"s":"s1-12-schoen-sh"},{"f":5.25,"v":36.3,"s":"s1-12-schoen-sh"},{"f":5.33,"v":39.5,"s":"s1-12-schoen-sh"},{"f":5.38,"v":41.3,"s":"s1-12-schoen-sh"},{"f":5.46,"v":40.2,"s":"s1-12-schoen-sh"},{"f":5.52,"v":40,"s":"s1-12-schoen-sh"},{"f":5.6,"v":41,"s":"s1-12-schoen-sh"},{"f":5.67,"v":41.3,"s":"s1-12-schoen-sh"},{"f":5.74,"v":40.3,"s":"s1-12-schoen-sh"},{"f":5.8,"v":42.3,"s":"s1-12-schoen-sh"},{"f":5.87,"v":40.5,"s":"s1-12-schoen-sh"},{"f":5.95,"v":41.5,"s":"s1-12-schoen-sh"},{"f":6.0,"v":39.8,"s":"s1-12-schoen-sh"},{"f":6.07,"v":43,"s":"s1-12-schoen-sh"},{"f":6.14,"v":45,"s":"s1-12-schoen-sh"},{"f":6.2,"v":41.5,"s":"s1-12-schoen-sh"},{"f":6.26,"v":37.5,"s":"s1-12-schoen-sh"},{"f":6.33,"v":35.8,"s":"s1-12-schoen-sh"},{"f":6.4,"v":36.2,"s":"s1-12-schoen-sh"},{"f":6.46,"v":38.5,"s":"s1-12-schoen-sh"},{"f":6.53,"v":40.3,"s":"s1-12-schoen-sh"},{"f":6.59,"v":39.2,"s":"s1-12-schoen-sh"},{"f":6.66,"v":40.4,"s":"s1-12-schoen-sh"},{"f":6.73,"v":38.2,"s":"s1-12-schoen-sh"},{"f":6.79,"v":39.6,"s":"s1-12-schoen-sh"},{"f":6.86,"v":38.7,"s":"s1-12-schoen-sh"},{"f":6.94,"v":37.3,"s":"s1-12-schoen-sh"},{"f":7.02,"v":35.8,"s":"s1-12-schoen-sh"},{"f":7.08,"v":33.8,"s":"s1-12-schoen-sh"},{"f":7.15,"v":35.4,"s":"s1-12-schoen-sh"},{"f":7.21,"v":37.6,"s":"s1-12-schoen-sh"},{"f":7.26,"v":36.5,"s":"s1-12-schoen-sh"},{"f":7.33,"v":32.8,"s":"s1-12-schoen-sh"},{"f":7.41,"v":32.7,"s":"s1-12-schoen-sh"},{"f":7.49,"v":32.7,"s":"s1-12-schoen-sh"},{"f":7.57,"v":31.3,"s":"s1-12-schoen-sh"},{"f":7.65,"v":31.8,"s":"s1-12-schoen-sh"},{"f":7.73,"v":30,"s":"s1-12-schoen-sh"},{"f":7.79,"v":30.7,"s":"s1-12-schoen-sh"},{"f":7.86,"v":29.4,"s":"s1-12-schoen-sh"},{"f":7.94,"v":30.5,"s":"s1-12-schoen-sh"},{"f":8.0,"v":29.2,"s":"s1-12-schoen-sh"},{"f":8.04,"v":28.7,"s":"s1-12-schoen-sh"},{"f":8.11,"v":29.5,"s":"s1-12-schoen-sh"},{"f":8.17,"v":29.2,"s":"s1-12-schoen-sh"},{"f":8.25,"v":28.2,"s":"s1-12-schoen-sh"},{"f":8.33,"v":27.3,"s":"s1-12-schoen-sh"},{"f":8.41,"v":26.8,"s":"s1-12-schoen-sh"},{"f":8.49,"v":26.5,"s":"s1-12-schoen-sh"},{"f":8.57,"v":26.5,"s":"s1-12-schoen-sh"},{"f":8.65,"v":25.4,"s":"s1-12-schoen-sh"},{"f":8.73,"v":24.2,"s":"s1-12-schoen-sh"},{"f":8.81,"v":24.3,"s":"s1-12-schoen-sh"},{"f":8.88,"v":25.7,"s":"s1-12-schoen-sh"},{"f":8.96,"v":26.1,"s":"s1-12-schoen-sh"},{"f":9.04,"v":26,"s":"s1-12-schoen-sh"},{"f":9.12,"v":25.3,"s":"s1-12-schoen-sh"},{"f":9.2,"v":24.1,"s":"s1-12-schoen-sh"},{"f":9.28,"v":23.5,"s":"s1-12-schoen-sh"},{"f":9.36,"v":25.4,"s":"s1-12-schoen-sh"},{"f":9.44,"v":25,"s":"s1-12-schoen-sh"},{"f":9.52,"v":25.7,"s":"s1-12-schoen-sh"},{"f":9.59,"v":26,"s":"s1-12-schoen-sh"},{"f":9.67,"v":25.9,"s":"s1-12-schoen-sh"},{"f":9.75,"v":24.8,"s":"s1-12-schoen-sh"},{"f":9.83,"v":24.3,"s":"s1-12-schoen-sh"},{"f":9.91,"v":25.2,"s":"s1-12-schoen-sh"},{"f":10.0,"v":26.8,"s":"s1-12-schoen-sh"},
      {"f":0,"v":2,"s":"Noise floor"},{"f":0.04,"v":22,"s":"Noise floor"},{"f":0.09,"v":33,"s":"Noise floor"},{"f":0.13,"v":25,"s":"Noise floor"},{"f":0.21,"v":18,"s":"Noise floor"},{"f":0.26,"v":12.5,"s":"Noise floor"},{"f":0.32,"v":11.5,"s":"Noise floor"},{"f":0.4,"v":13,"s":"Noise floor"},{"f":0.48,"v":12.8,"s":"Noise floor"},{"f":0.55,"v":13.5,"s":"Noise floor"},{"f":0.61,"v":12.8,"s":"Noise floor"},{"f":0.67,"v":14,"s":"Noise floor"},{"f":0.74,"v":12.5,"s":"Noise floor"},{"f":0.79,"v":11.2,"s":"Noise floor"},{"f":0.83,"v":9,"s":"Noise floor"},{"f":0.88,"v":7,"s":"Noise floor"},{"f":0.95,"v":9.5,"s":"Noise floor"},{"f":1.0,"v":8.3,"s":"Noise floor"},{"f":1.04,"v":5.2,"s":"Noise floor"},{"f":1.11,"v":6.8,"s":"Noise floor"},{"f":1.16,"v":5.5,"s":"Noise floor"},{"f":1.22,"v":3.5,"s":"Noise floor"},{"f":1.29,"v":1.6,"s":"Noise floor"},{"f":1.36,"v":2.2,"s":"Noise floor"},{"f":1.43,"v":3.5,"s":"Noise floor"},{"f":1.5,"v":3.8,"s":"Noise floor"},{"f":1.58,"v":3.2,"s":"Noise floor"},{"f":1.66,"v":2,"s":"Noise floor"},{"f":1.74,"v":0.3,"s":"Noise floor"},{"f":1.81,"v":-0.3,"s":"Noise floor"},{"f":1.9,"v":-0.3,"s":"Noise floor"},{"f":1.98,"v":-0.5,"s":"Noise floor"},{"f":2.06,"v":0.2,"s":"Noise floor"},{"f":2.14,"v":1.2,"s":"Noise floor"},{"f":2.17,"v":2.3,"s":"Noise floor"},{"f":2.22,"v":1,"s":"Noise floor"},{"f":2.27,"v":1.5,"s":"Noise floor"},{"f":2.32,"v":2.5,"s":"Noise floor"},{"f":2.39,"v":3.5,"s":"Noise floor"},{"f":2.46,"v":4.5,"s":"Noise floor"},{"f":2.52,"v":4.8,"s":"Noise floor"},{"f":2.59,"v":2.5,"s":"Noise floor"},{"f":2.64,"v":0.7,"s":"Noise floor"},{"f":2.68,"v":1.5,"s":"Noise floor"},{"f":2.72,"v":3.3,"s":"Noise floor"},{"f":2.76,"v":1.3,"s":"Noise floor"},{"f":2.83,"v":-0.5,"s":"Noise floor"},{"f":2.91,"v":-1,"s":"Noise floor"},{"f":2.98,"v":-1.3,"s":"Noise floor"},{"f":3.09,"v":-1.6,"s":"Noise floor"},{"f":3.2,"v":-1.5,"s":"Noise floor"},{"f":3.3,"v":-1.7,"s":"Noise floor"},{"f":3.4,"v":-1.5,"s":"Noise floor"},{"f":3.48,"v":-2,"s":"Noise floor"},{"f":3.59,"v":-1.5,"s":"Noise floor"},{"f":3.67,"v":-1.3,"s":"Noise floor"},{"f":3.72,"v":-1.8,"s":"Noise floor"},{"f":3.8,"v":-2.4,"s":"Noise floor"},{"f":3.88,"v":-2,"s":"Noise floor"},{"f":3.96,"v":-2.2,"s":"Noise floor"},{"f":4.02,"v":1.5,"s":"Noise floor"},{"f":4.05,"v":1.8,"s":"Noise floor"},{"f":4.09,"v":-1.6,"s":"Noise floor"},{"f":4.17,"v":-2.2,"s":"Noise floor"},{"f":4.25,"v":-2.1,"s":"Noise floor"},{"f":4.31,"v":-2.4,"s":"Noise floor"},{"f":4.38,"v":1.2,"s":"Noise floor"},{"f":4.42,"v":0.2,"s":"Noise floor"},{"f":4.46,"v":-2.2,"s":"Noise floor"},{"f":4.54,"v":-2.8,"s":"Noise floor"},{"f":4.62,"v":-2.8,"s":"Noise floor"},{"f":4.65,"v":-1.5,"s":"Noise floor"},{"f":4.73,"v":-0.8,"s":"Noise floor"},{"f":4.78,"v":-2,"s":"Noise floor"},{"f":4.86,"v":-2.5,"s":"Noise floor"},{"f":4.94,"v":-2.3,"s":"Noise floor"},{"f":5.02,"v":-1.8,"s":"Noise floor"},{"f":5.09,"v":-0.8,"s":"Noise floor"},{"f":5.17,"v":-0.2,"s":"Noise floor"},{"f":5.23,"v":-1,"s":"Noise floor"},{"f":5.29,"v":1.8,"s":"Noise floor"},{"f":5.36,"v":-2.5,"s":"Noise floor"},{"f":5.44,"v":-3,"s":"Noise floor"},{"f":5.52,"v":-3.2,"s":"Noise floor"},{"f":5.6,"v":-3.4,"s":"Noise floor"},{"f":5.67,"v":-3,"s":"Noise floor"},{"f":5.74,"v":-2.3,"s":"Noise floor"},{"f":5.8,"v":-3.8,"s":"Noise floor"},{"f":5.94,"v":-3.8,"s":"Noise floor"},{"f":6.15,"v":-3.8,"s":"Noise floor"},{"f":6.41,"v":-4.1,"s":"Noise floor"},{"f":6.67,"v":-3.8,"s":"Noise floor"},{"f":6.78,"v":-3.6,"s":"Noise floor"},{"f":6.94,"v":-4.1,"s":"Noise floor"},{"f":7.25,"v":-3.8,"s":"Noise floor"},{"f":7.46,"v":-4.1,"s":"Noise floor"},{"f":7.73,"v":-4.3,"s":"Noise floor"},{"f":8.0,"v":-4.4,"s":"Noise floor"},{"f":8.25,"v":-4.5,"s":"Noise floor"},{"f":8.52,"v":-4.3,"s":"Noise floor"},{"f":8.78,"v":-4.4,"s":"Noise floor"},{"f":8.94,"v":-3.7,"s":"Noise floor"},{"f":9.02,"v":-4.3,"s":"Noise floor"},{"f":9.15,"v":-4,"s":"Noise floor"},{"f":9.25,"v":-3.8,"s":"Noise floor"},{"f":9.33,"v":-4.4,"s":"Noise floor"},{"f":9.57,"v":-5,"s":"Noise floor"},{"f":9.71,"v":-5.3,"s":"Noise floor"},{"f":9.83,"v":-4.8,"s":"Noise floor"},{"f":9.88,"v":-4,"s":"Noise floor"},{"f":10.0,"v":-5,"s":"Noise floor"}
    ]
  },
  "vconcat": [
    {
      "width": 631,
      "height": 177,
      "layer": [
        {
          "data": {"name": "zero"},
          "mark": {"type": "rule", "color": "#8a8a8a", "strokeWidth": 1.2},
          "encoding": {
            "x": {"field": "f0", "type": "quantitative", "scale": {"domain": [0, 10], "nice": false, "zero": false}, "axis": {"orient": "top", "labels": false, "tickSize": -5, "values": [1, 2, 3, 4, 5, 6, 7, 8, 9], "grid": false, "domain": false, "title": "a", "titleX": -45, "titleY": 0, "titleAngle": 0, "titleAlign": "left", "titleBaseline": "middle", "titleFontWeight": "bold", "titleFontSize": 15, "titleColor": "#222"}},
            "x2": {"field": "f1"},
            "y": {"field": "v", "type": "quantitative", "scale": {"domain": [-10, 40], "nice": false, "zero": false}, "axis": null}
          }
        },
        {
          "data": {"name": "A"},
          "mark": {"type": "line", "interpolate": "monotone", "strokeWidth": 1.5},
          "encoding": {
            "x": {"field": "f", "type": "quantitative", "scale": {"domain": [0, 10], "nice": false, "zero": false}, "axis": {"title": "Frequency in kHz", "values": [0, 1, 2, 3, 4, 5, 6, 7, 8, 9, 10], "tickSize": -5, "labelPadding": 13, "titlePadding": 3, "grid": false, "labelAlign": {"condition": {"test": "datum.value === 10", "value": "right"}, "value": "center"}}},
            "y": {"field": "v", "type": "quantitative", "scale": {"domain": [-10, 40], "nice": false, "zero": false}, "axis": {"orient": "left", "title": "Magnitude in dB", "values": [-10, 0, 10, 20, 30, 40], "ticks": false, "labelPadding": 6, "grid": true, "titleFontSize": 17, "titlePadding": 3}},
            "color": {"field": "s", "type": "nominal", "scale": {"domain": ["Simulated VVTF", "Measured VVTF"], "range": ["#9c9c9c", "#1c1c1c"]},
              "legend": {"orient": "none", "legendX": 445, "legendY": 15, "title": null, "symbolType": "M0,0H34", "symbolSize": 4, "symbolStrokeWidth": 1.5, "labelFontSize": 15, "labelOffset": 31, "padding": 9, "rowPadding": 5, "strokeColor": "#8a8a8a", "fillColor": "white", "labelColor": "#333"}}
          }
        }
      ],
      "resolve": {"axis": {"x": "independent", "y": "independent"}}
    },
    {
      "width": 631,
      "height": 241,
      "layer": [
        {
          "data": {"name": "B"},
          "mark": {"type": "line", "strokeWidth": 1.3},
          "encoding": {
            "x": {"field": "f", "type": "quantitative", "scale": {"domain": [0, 10], "nice": false, "zero": false}, "axis": {"title": "Frequency in kHz", "values": [0, 1, 2, 3, 4, 5, 6, 7, 8, 9, 10], "tickSize": -5, "labelPadding": 13, "titlePadding": 3, "grid": false, "labelAlign": {"condition": {"test": "datum.value === 10", "value": "right"}, "value": "center"}}},
            "y": {"field": "v", "type": "quantitative", "scale": {"domain": [-10, 60], "nice": false, "zero": false}, "axis": {"orient": "left", "title": "PSD in dB (re. [2·10⁻⁵ Pa]²/[1 Hz])", "values": [-10, 0, 10, 20, 30, 40, 50, 60], "ticks": false, "labelPadding": 6, "grid": true, "titleFontSize": 16.5, "titlePadding": 3}},
            "color": {"field": "s", "type": "nominal", "scale": {"domain": ["s1-02-beet-tense-e", "s1-12-schoen-sh", "Noise floor"], "range": ["#9c9c9c", "#1c1c1c", "#1c1c1c"]},
              "legend": {"orient": "none", "legendX": 451, "legendY": 12, "title": null, "symbolType": "M0,0H35", "symbolSize": 4, "symbolStrokeWidth": 1.3, "labelFontSize": 15, "labelOffset": 32, "padding": 6, "rowPadding": 1.6, "strokeColor": "#8a8a8a", "fillColor": "white", "labelColor": "#333"}},
            "strokeDash": {"field": "s", "type": "nominal", "scale": {"domain": ["s1-02-beet-tense-e", "s1-12-schoen-sh", "Noise floor"], "range": [[1, 0], [1, 0], [5, 3]]},
              "legend": {"orient": "none", "legendX": 451, "legendY": 12, "title": null, "symbolType": "M0,0H35", "symbolSize": 4, "symbolStrokeWidth": 1.3, "labelFontSize": 15, "labelOffset": 32, "padding": 6, "rowPadding": 1.6, "strokeColor": "#8a8a8a", "fillColor": "white", "labelColor": "#333"}}
          }
        },
        {
          "data": {"name": "arrows"},
          "mark": {"type": "rule", "color": "#9a9a9a", "strokeWidth": 1.2},
          "encoding": {
            "x": {"field": "f", "type": "quantitative", "scale": {"domain": [0, 10], "nice": false, "zero": false}, "axis": {"orient": "top", "labels": false, "tickSize": -5, "values": [1, 2, 3, 4, 5, 6, 7, 8, 9], "grid": false, "domain": false, "title": "b", "titleX": -44, "titleY": 1.5, "titleAngle": 0, "titleAlign": "left", "titleBaseline": "middle", "titleFontWeight": "bold", "titleFontSize": 15, "titleColor": "#222"}},
            "y": {"field": "top", "type": "quantitative", "scale": {"domain": [-10, 60], "nice": false, "zero": false}, "axis": null},
            "y2": {"field": "head"}
          }
        },
        {
          "data": {"name": "arrows"},
          "mark": {"type": "point", "shape": "triangle-down", "filled": true, "size": 55, "color": "#9a9a9a", "opacity": 1},
          "encoding": {
            "x": {"field": "f", "type": "quantitative", "scale": {"domain": [0, 10], "nice": false, "zero": false}, "axis": null},
            "y": {"field": "head", "type": "quantitative", "scale": {"domain": [-10, 60], "nice": false, "zero": false}, "axis": null}
          }
        }
      ],
      "resolve": {"axis": {"x": "independent", "y": "independent"}}
    }
  ],
  "resolve": {"scale": {"color": "independent", "strokeDash": "independent"}, "legend": {"color": "independent", "strokeDash": "independent"}}
}
